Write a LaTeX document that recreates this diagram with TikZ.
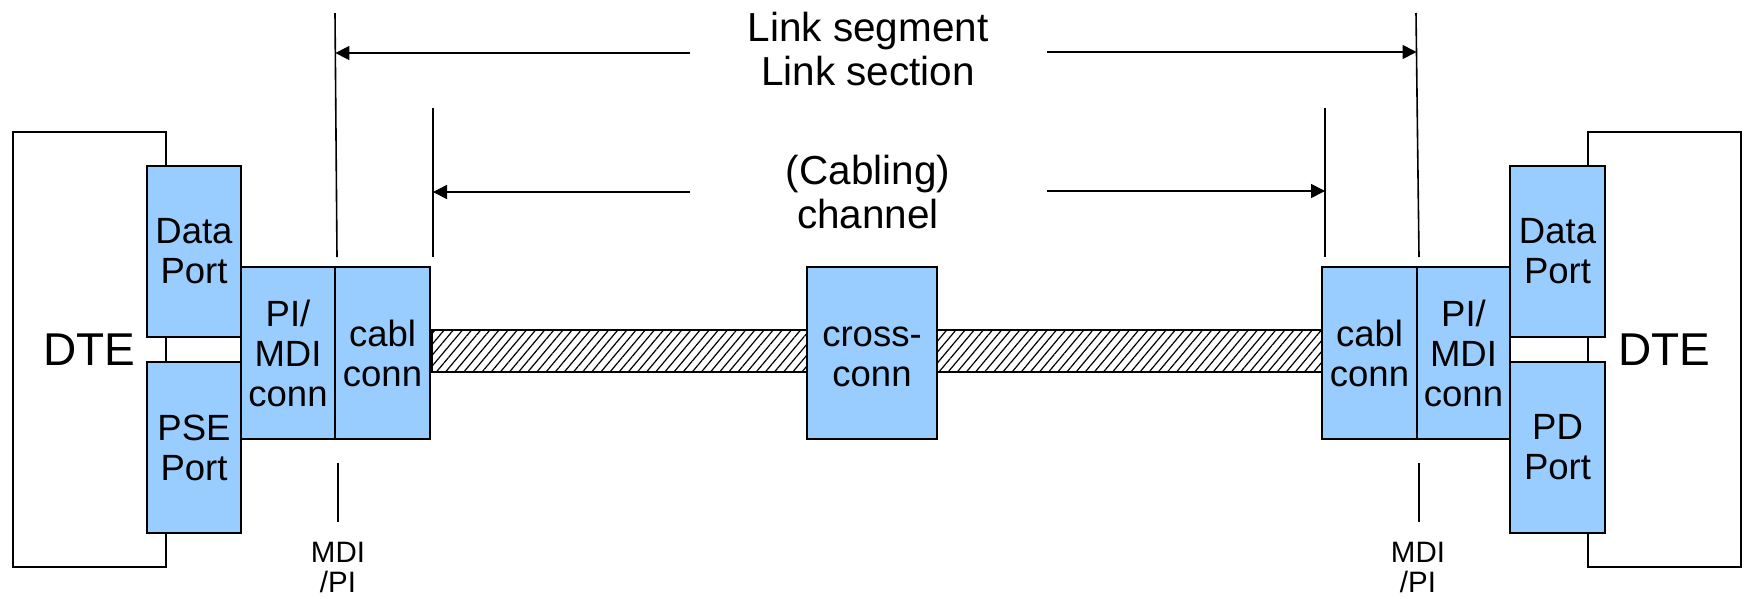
\documentclass[tikz,border=0pt]{standalone}
\usepackage{fontspec}
\setmainfont{Liberation Sans}
\usetikzlibrary{arrows.meta,patterns.meta}
\definecolor{boxblue}{RGB}{153,204,255}
\begin{document}
\begin{tikzpicture}[x=1pt,y=-1pt,
  lw/.style={line width=1.6pt},
  blk/.style={draw=black,lw,fill=boxblue,inner sep=0pt,align=center,
     font={\fontsize{36.5}{40}\selectfont}},
  dtebox/.style={draw=black,lw,inner sep=0pt,font={\fontsize{46}{48}\selectfont}},
  lbl/.style={inner sep=0pt,align=center,font={\fontsize{40.5}{44}\selectfont}},
  mdi/.style={inner sep=0pt,align=center,font={\fontsize{29.5}{30}\selectfont}},
  vline/.style={lw},
  dimarrow/.style={lw,-{Triangle[length=14pt,width=14pt]}}]
\useasboundingbox (0,0) rectangle (1745,598);
% DTE boxes
\node[dtebox,minimum width=153pt,minimum height=435pt] (dteL) at (89.5,349.5) {DTE};
\node[dtebox,minimum width=153pt,minimum height=435pt] (dteR) at (1664.5,349.5) {DTE};
% cable
\draw[lw,pattern={Lines[angle=50,distance=7pt,line width=1.2pt]}] (432,330) rectangle (1322,372);
% left blocks
\node[blk,minimum width=94pt,minimum height=171pt] (dataL) at (194,251.5) {Data\\Port};
\node[blk,minimum width=94pt,minimum height=171pt] (pse) at (194,447.5) {PSE\\Port};
\node[blk,minimum width=94pt,minimum height=172pt] (pimdiL) at (288,353) {PI/\\MDI\\conn};
\node[blk,minimum width=95pt,minimum height=172pt] (cablL) at (382.5,353) {cabl\\conn};
% middle
\node[blk,minimum width=130pt,minimum height=172pt] (cross) at (872,353) {cross-\vphantom{l}\\conn};
% right blocks
\node[blk,minimum width=95pt,minimum height=172pt] (cablR) at (1369.5,353) {cabl\\conn};
\node[blk,minimum width=93pt,minimum height=172pt] (pimdiR) at (1463.5,353) {PI/\\MDI\\conn};
\node[blk,minimum width=95pt,minimum height=171pt] (dataR) at (1557.5,251.5) {Data\\Port};
\node[blk,minimum width=95pt,minimum height=171pt] (pd) at (1557.5,447.5) {PD\\Port};
% labels
\node[lbl] (seg) at (868,49) {Link segment\\Link section};
\node[lbl] (chan) at (868,192) {(Cabling)\\channel};
\node[mdi] (mdiL) at (338,567.5) {MDI\\/PI};
\node[mdi] (mdiR) at (1418,567.5) {MDI\\/PI};
% reference lines
\coordinate (segLt) at (335,13);
\coordinate (segLb) at (337,257);
\coordinate (segLa) at (335.4,53);
\coordinate (chLt) at (433,108);
\coordinate (chLb) at (433,257);
\coordinate (chLa) at (433,192);
\coordinate (segRt) at (1416,13);
\coordinate (segRb) at (1419,257);
\coordinate (segRa) at (1416.5,52);
\coordinate (chRt) at (1325,108);
\coordinate (chRb) at (1325,257);
\coordinate (chRa) at (1325,191);
\coordinate (mdiLt) at (338,463);
\coordinate (mdiLb) at (338,522);
\coordinate (mdiRt) at (1419,463);
\coordinate (mdiRb) at (1419,522);
\coordinate (segAl) at (690,53);
\coordinate (segAr) at (1047,52);
\coordinate (chAl) at (690,192);
\coordinate (chAr) at (1047,191);
\draw[vline] (segLt) -- (segLb);
\draw[vline] (chLt) -- (chLb);
\draw[vline] (segRt) -- (segRb);
\draw[vline] (chRt) -- (chRb);
\draw[vline] (mdiLt) -- (mdiLb);
\draw[vline] (mdiRt) -- (mdiRb);
\draw[dimarrow] (segAl) -- (segLa);
\draw[dimarrow] (segAr) -- (segRa);
\draw[dimarrow] (chAl) -- (chLa);
\draw[dimarrow] (chAr) -- (chRa);
\end{tikzpicture}
\end{document}
